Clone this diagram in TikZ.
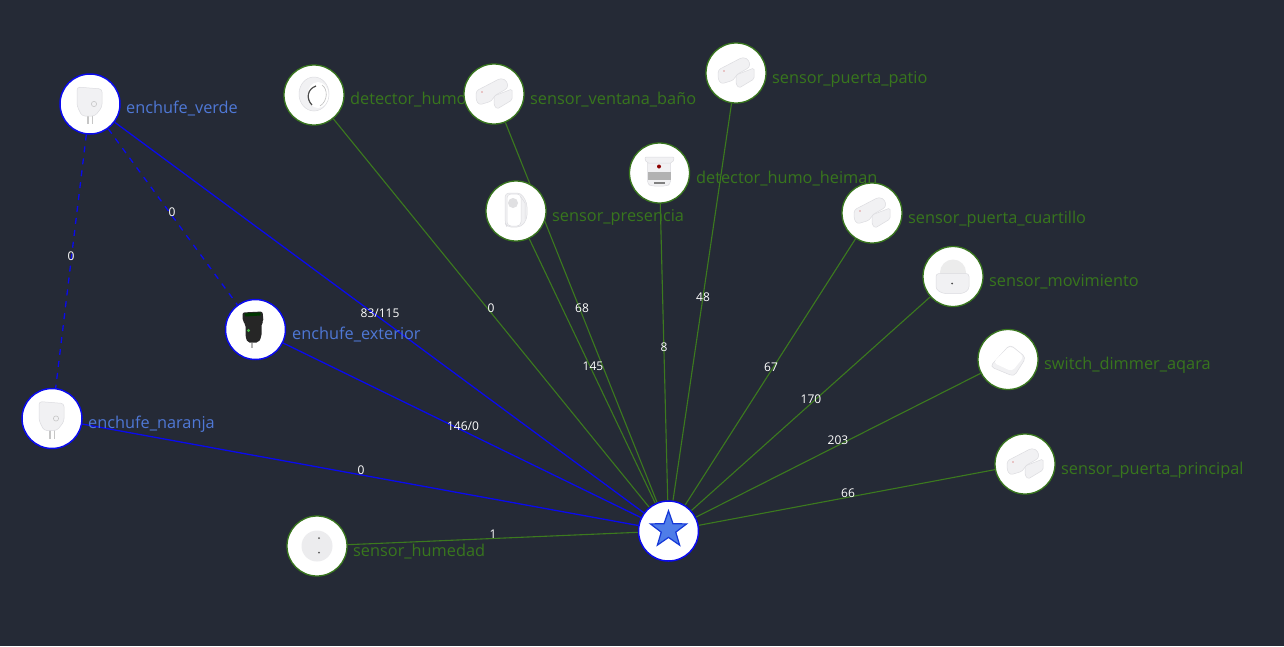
\documentclass[tikz,border=0pt]{standalone}
\usepackage{fontspec}
\setmainfont{Open Sans}
\usetikzlibrary{shapes.geometric}
\definecolor{bgdark}{HTML}{252A36}
\definecolor{grn}{HTML}{38761D}
\definecolor{grnline}{HTML}{3C7A1E}
\definecolor{blu}{HTML}{4F78D6}
\definecolor{blk}{HTML}{0A0AEE}
\definecolor{starfill}{HTML}{4F7DE8}
\definecolor{staredge}{HTML}{1538D8}
\definecolor{pale}{HTML}{F1F1F3}
\definecolor{paleedge}{HTML}{DCDCE0}
\pgfdeclarelayer{edgelayer}
\pgfdeclarelayer{namelayer}
\pgfdeclarelayer{toplayer}
\pgfsetlayers{edgelayer,namelayer,main,toplayer}
\tikzset{
  devg/.style={circle,draw=grn,fill=white,line width=1.3pt,minimum size=60pt,inner sep=0pt},
  devb/.style={circle,draw=blk,fill=white,line width=1.5pt,minimum size=60pt,inner sep=0pt},
  ng/.style={anchor=base west,inner sep=0pt,text=grn,font=\fontsize{16.3}{18}\selectfont},
  nb/.style={anchor=base west,inner sep=0pt,text=blu,font=\fontsize{16.3}{18}\selectfont},
  elabel/.style={inner sep=0pt,text=white,font=\fontsize{12}{13}\selectfont},
  gl/.style={draw=grnline,line width=1.1pt},
  bl/.style={draw=blk,line width=1.3pt},
  bld/.style={draw=blk,line width=1.3pt,dash pattern=on 6pt off 6pt},
  iconp/.style={fill=pale,draw=paleedge,line width=.5pt,line join=round,rounded corners=1.5pt}
}
\newcommand{\doorsensor}[2]{%
  \begin{scope}[shift={(#1,#2)}]
    \path[iconp,rounded corners=3pt] (-18,-3)--(7,-16)--(13,-13)--(14,-6)--(0,2)--(-2,7)--(-15,11)--(-18,6)--cycle;
    \path[iconp] (0,2)--(18,-5)--(18,6)--(3,15)--(0,11)--cycle;
    \fill[red!60!gray] (-12,-2) circle (.6pt);
  \end{scope}}
\newcommand{\plugicon}[2]{%
  \begin{scope}[shift={(#1,#2)}]
    \fill[gray!45] (-3,10) rectangle (-1.5,20);
    \fill[gray!45] (1.5,10) rectangle (3,20);
    \path[iconp,rounded corners=3pt] (-13,-17)--(12,-15)--(12,3)--(5,12)--(-8,12)--(-13,2)--cycle;
    \draw[gray!45,line width=.6pt] (4,0) circle (2.6pt);
  \end{scope}}
\begin{document}
\begin{tikzpicture}[x=1pt,y=-1pt]
\useasboundingbox (0,0) rectangle (1284,646);
\begin{pgfonlayer}{edgelayer}
\fill[bgdark] (0,0) rectangle (1284,646);
\end{pgfonlayer}
% devices
\node[devb] (hub) at (668.5,531) {};
\node[devb] (verde) at (90,104) {};
\node[devb] (exterior) at (255.5,329.5) {};
\node[devb] (naranja) at (52,418.5) {};
\node[devg] (humedad) at (317,546) {};
\node[devg] (humo) at (314,95) {};
\node[devg] (ventana) at (494,94) {};
\node[devg] (presencia) at (516,211) {};
\node[devg] (heiman) at (659.5,173) {};
\node[devg] (patio) at (736,73) {};
\node[devg] (cuartillo) at (872,213) {};
\node[devg] (movimiento) at (953,276.5) {};
\node[devg] (dimmer) at (1008,359.5) {};
\node[devg] (principal) at (1025,464) {};
\node[star,star points=5,star point ratio=2.5,draw=staredge,fill=starfill,line width=1.2pt,minimum size=38pt,inner sep=0pt] (starmark) at (668.5,529.8) {};
% connectors
\begin{pgfonlayer}{edgelayer}
\draw[bl] (verde) -- (hub);
\draw[bl] (exterior) -- (hub);
\draw[bl] (naranja) -- (hub);
\draw[bld] (verde) -- (naranja);
\draw[bld] (verde) -- (exterior);
\draw[gl] (humedad) -- (hub);
\draw[gl] (humo) -- (hub);
\draw[gl] (ventana) -- (hub);
\draw[gl] (presencia) -- (hub);
\draw[gl] (heiman) -- (hub);
\draw[gl] (patio) -- (hub);
\draw[gl] (cuartillo) -- (hub);
\draw[gl] (movimiento) -- (hub);
\draw[gl] (dimmer) -- (hub);
\draw[gl] (principal) -- (hub);
\end{pgfonlayer}
% names
\begin{pgfonlayer}{namelayer}
\node[nb] (t1) at (126,113.5) {enchufe\_verde};
\node[nb] (t2) at (292,339.5) {enchufe\_exterior};
\node[nb] (t3) at (88,428) {enchufe\_naranja};
\node[ng] (t4) at (353,556) {sensor\_humedad};
\node[ng] (t5) at (350,104.5) {detector\_humo};
\node[ng] (t6) at (530,104) {sensor\_ventana\_baño};
\node[ng] (t7) at (552,221.5) {sensor\_presencia};
\node[ng] (t8) at (696,183) {detector\_humo\_heiman};
\node[ng] (t9) at (772,83) {sensor\_puerta\_patio};
\node[ng] (t10) at (908,223) {sensor\_puerta\_cuartillo};
\node[ng] (t11) at (989,286) {sensor\_movimiento};
\node[ng] (t12) at (1044,369) {switch\_dimmer\_aqara};
\node[ng] (t13) at (1061,474) {sensor\_puerta\_principal};
\end{pgfonlayer}
% connector labels
\begin{pgfonlayer}{toplayer}
\node[elabel] (e1) at (71,256) {0};
\node[elabel] (e2) at (172,212) {0};
\node[elabel] (e3) at (380,313) {83/115};
\node[elabel] (e4) at (463,426) {146/0};
\node[elabel] (e5) at (361,470) {0};
\node[elabel] (e6) at (493,534) {1};
\node[elabel] (e7) at (491,308) {0};
\node[elabel] (e8) at (582,308) {68};
\node[elabel] (e9) at (593,366) {145};
\node[elabel] (e10) at (664,347) {8};
\node[elabel] (e11) at (703,297) {48};
\node[elabel] (e12) at (771,367) {67};
\node[elabel] (e13) at (811,399) {170};
\node[elabel] (e14) at (838,440) {203};
\node[elabel] (e15) at (848,493) {66};
\end{pgfonlayer}
% device pictures
\plugicon{90}{104}
\plugicon{52}{418.5}
\begin{scope}[shift={(255.5,329.5)}]
  \fill[gray!60] (-4.3,13) rectangle (-2.7,18);
  \path[fill=black!85,rounded corners=2pt] (-13,-17)--(7,-18)--(8,-8)--(6,-6)--(6,7)--(3,13)--(-8,13)--(-10,7)--(-10,-5)--(-13,-9)--cycle;
  \fill[black!65!green!60!black] (-11,-16)--(5,-17)--(5,-14)--(-10,-13)--cycle;
  \fill[green!45!gray] (-7,1) circle (1.7pt);
\end{scope}
\begin{scope}[shift={(317,546)}]
  \fill[pale!96!gray] (0,0) circle (15.5pt);
  \fill[black!65] (2,-8) circle (1pt);
  \fill[black!65] (2,6.5) circle (1pt);
\end{scope}
\begin{scope}[shift={(314,95)}]
  \fill[pale,draw=paleedge,line width=.5pt] (0,-1) ellipse (15pt and 17pt);
  \fill[white] (4,0) ellipse (10.5pt and 13pt);
  \draw[black!70,line width=1.2pt] (-2,10) .. controls (-8,4) and (-7,-6) .. (2,-9);
  \draw[gray!50,line width=.6pt] (8,-10) .. controls (14,-6) and (14,6) .. (6,11);
\end{scope}
\doorsensor{494}{94}
\begin{scope}[shift={(516,211)}]
  \path[iconp,rounded corners=4pt] (-11,-18)--(5,-18)--(11,-8)--(11,8)--(5,16)--(-9,16)--(-11,12)--cycle;
  \path[fill=white,draw=paleedge,line width=.5pt,rounded corners=4pt] (-9,-17) rectangle (5,15);
  \fill[pale!85!gray] (-3,-8) circle (5pt);
  \draw[paleedge,line width=.5pt] (5,-14) -- (9,-8) -- (9,8);
\end{scope}
\begin{scope}[shift={(659.5,173)}]
  \path[iconp,rounded corners=3pt] (-12,-13)--(11,-13)--(11,11)--(7,13)--(-8,13)--(-12,11)--cycle;
  \path[iconp,rounded corners=2pt] (-15,-16)--(15,-16)--(13,-10)--(-13,-10)--cycle;
  \fill[gray!60] (-12,-1) rectangle (11,7);
  \fill[black!50] (-6,9) rectangle (5,11);
  \fill[red!55!black] (-.5,-6.5) circle (2pt);
\end{scope}
\doorsensor{736}{73}
\doorsensor{872}{213}
\begin{scope}[shift={(953,276.5)}]
  \fill[gray!15] (0,-4) circle (13pt);
  \path[fill=pale,draw=paleedge,line width=.5pt,rounded corners=3pt] (-17,-3)--(16,-3)--(16,13)--(10,17)--(-10,17)--(-17,13)--cycle;
  \fill[black!70] (-1,7) circle (1pt);
\end{scope}
\begin{scope}[shift={(1008,359.5)}]
  \path[fill=pale,draw=paleedge,line width=.5pt,rounded corners=4pt] (-18,7)--(2,-15)--(18,-2)--(6,17)--cycle;
  \path[fill=white,rounded corners=4pt] (-15,3)--(2,-14)--(16,-3)--(4,12)--cycle;
\end{scope}
\doorsensor{1025}{464}
\end{tikzpicture}
\end{document}
